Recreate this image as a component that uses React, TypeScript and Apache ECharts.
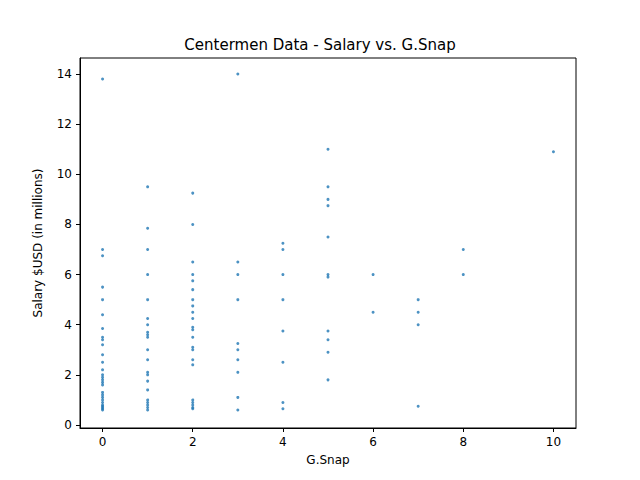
import React, { useEffect, useRef } from 'react';
import * as echarts from 'echarts';

const gSnap0 = [13.8, 7.0, 6.75, 5.5, 5.0, 4.4, 3.85, 3.5, 3.4, 3.2, 2.8, 2.5, 2.2, 2.0, 1.9, 1.8, 1.7, 1.6, 1.3, 1.2, 1.1, 1.0, 0.9, 0.8, 0.75, 0.7, 0.65, 0.6];
const gSnap1 = [9.5, 7.85, 7.0, 6.0, 5.0, 4.25, 4.0, 3.7, 3.6, 3.5, 3.0, 2.6, 2.1, 2.0, 1.75, 1.4, 1.0, 0.9, 0.8, 0.7, 0.6];
const gSnap2 = [9.25, 8.0, 6.5, 6.0, 5.75, 5.4, 5.0, 4.75, 4.5, 4.25, 3.9, 3.8, 3.5, 3.1, 3.0, 2.6, 2.4, 1.0, 0.9, 0.8, 0.7, 0.65];
const gSnap3 = [14.0, 6.5, 6.0, 5.0, 3.25, 3.0, 2.6, 2.1, 1.1, 0.6];
const gSnap4 = [7.25, 7.0, 6.0, 5.0, 3.75, 2.5, 0.9, 0.65];
const gSnap5 = [11.0, 9.5, 9.0, 8.75, 7.5, 6.0, 5.9, 3.75, 3.4, 2.9, 1.8];
const gSnap6 = [6.0, 4.5];
const gSnap7 = [5.0, 4.5, 4.0, 0.75];
const gSnap8 = [7.0, 6.0];
const gSnap10 = [10.9];

const columns: [number, number[]][] = [
  [0, gSnap0], [1, gSnap1], [2, gSnap2], [3, gSnap3], [4, gSnap4],
  [5, gSnap5], [6, gSnap6], [7, gSnap7], [8, gSnap8], [10, gSnap10],
];

const xTicks = [0, 2, 4, 6, 8, 10];
const yTicks = [0, 2, 4, 6, 8, 10, 12, 14];

export default function App() {
  const ref = useRef<HTMLDivElement>(null);

  useEffect(() => {
    if (!ref.current) return;
    const chart = echarts.init(ref.current, null, { renderer: 'svg' });
    const points = columns.flatMap(([x, ys]) => ys.map((y) => [x, y]));
    const font = 'DejaVu Sans';
    const axisCommon = {
      axisLine: { onZero: false, lineStyle: { color: '#000', width: 1 } },
      axisTick: { inside: false, length: 4, lineStyle: { color: '#000' } },
      axisLabel: { color: '#000', fontSize: 12, fontFamily: font },
      splitLine: { show: false },
      nameLocation: 'middle' as const,
      nameTextStyle: { color: '#000', fontSize: 12, fontFamily: font },
    };
    chart.setOption({
      animation: false,
      title: {
        text: 'Centermen Data - Salary vs. G.Snap',
        left: 'center',
        top: 32,
        textStyle: { fontSize: 15, fontWeight: 'normal', color: '#000', fontFamily: font },
      },
      grid: { left: 80, right: 64, top: 58, bottom: 52, show: true, borderColor: '#000', borderWidth: 1 },
      xAxis: {
        type: 'value',
        min: -0.5,
        max: 10.5,
        name: 'G.Snap',
        nameGap: 26,
        ...axisCommon,
        axisTick: { ...axisCommon.axisTick, customValues: xTicks },
        axisLabel: { ...axisCommon.axisLabel, customValues: xTicks },
      },
      yAxis: {
        type: 'value',
        min: -0.12,
        max: 14.64,
        name: 'Salary $USD (in millions)',
        nameGap: 36,
        ...axisCommon,
        axisTick: { ...axisCommon.axisTick, customValues: yTicks },
        axisLabel: { ...axisCommon.axisLabel, customValues: yTicks },
      },
      series: [
        {
          type: 'scatter',
          data: points,
          symbolSize: 3,
          itemStyle: { color: '#1f77b4' },
        },
      ],
    });
    return () => chart.dispose();
  }, []);

  return <div ref={ref} style={{ width: 640, height: 480, margin: -8, background: '#fff' }} />;
}
